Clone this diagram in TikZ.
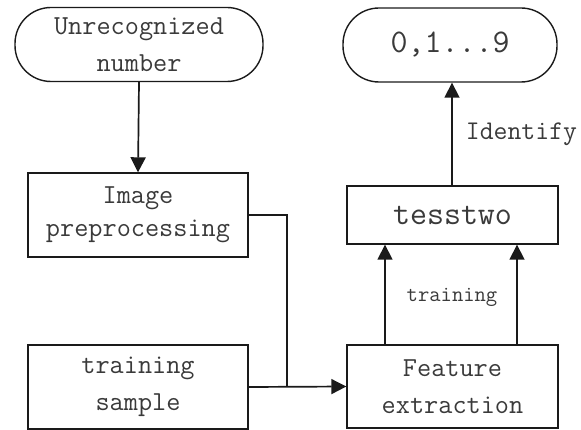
\documentclass[tikz,border=0pt]{standalone}
\usepackage{fontspec}
\usetikzlibrary{arrows.meta}
\definecolor{txt}{HTML}{3A3A3A}
\definecolor{ln}{HTML}{1A1A1A}
\begin{document}
\begin{tikzpicture}[x=1pt,y=-1pt,
  every node/.style={font=\ttfamily, text=txt, inner sep=0pt},
  pill/.style={draw=ln, line width=1.4pt, rounded corners=36pt, align=center},
  box/.style={draw=ln, line width=1.4pt, align=center},
  main/.style={font=\ttfamily\fontsize{27.5}{37}\selectfont},
  big/.style={font=\ttfamily\fontsize{33}{36}\selectfont},
  conn/.style={draw=ln, line width=1.7pt},
  arr/.style={conn, -{Triangle[length=15pt,width=15pt]}},
  lbl/.style={font=\ttfamily\fontsize{22}{24}\selectfont}]
\useasboundingbox (0,0) rectangle (581,430);
\node[pill, main, minimum width=248pt, minimum height=74pt] (un) at (139,44.5) {Unrecognized\\number};
\node[pill, big, minimum width=214pt, minimum height=74pt] (out) at (450,45) {0,1...9};
\node[box, minimum width=220pt, minimum height=84pt, font=\ttfamily\fontsize{27.5}{33}\selectfont] (ip) at (138,215) {Image\\preprocessing};
\node[box, big, minimum width=211pt, minimum height=58pt] (tw) at (452.5,215) {tesstwo};
\node[box, main, minimum width=220pt, minimum height=84pt] (ts) at (138,387) {training\\sample};
\node[box, main, minimum width=211pt, minimum height=83pt] (fe) at (452.5,386.5) {Feature\\extraction};
\coordinate (j) at (287,387);
\draw[arr] (un.south) -- (ip.north);
\draw[conn] (ip.east) -| (j);
\draw[arr] (ts.east) -- (fe.west);
\draw[arr] (fe.north -| 385,0) -- (tw.south -| 385,0);
\draw[arr] (fe.north -| 517,0) -- (tw.south -| 517,0);
\draw[arr] (tw.north -| 452,0) -- node[right=13pt, font=\ttfamily\fontsize{27}{28}\selectfont] (idl) {Identify} (out.south -| 452,0);
\node[lbl] (trl) at (452,297) {training};
\end{tikzpicture}
\end{document}
